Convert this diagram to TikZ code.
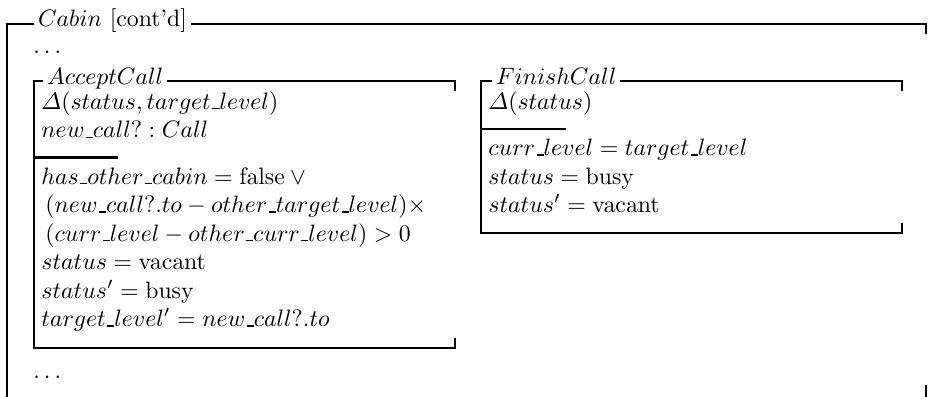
\documentclass[tikz,border=0pt]{standalone}
\usepackage{amsfonts,amsmath,amssymb}
\usepackage{tikz}
\usetikzlibrary{matrix}
\newcommand{\zus}{\kern.06em\vbox{\hrule width.3em height.6pt}}

\begin{document}
\begin{tikzpicture}[x=0.421pt,y=-0.421pt,
    frame/.style={line width=1.2pt},
    ztitle/.style={inner xsep=1.5pt, inner ysep=0pt, anchor=base west},
    zdots/.style={inner sep=0pt, anchor=base west},
    zbody/.style={matrix of math nodes,
      inner sep=0pt,
      row sep=1pt,
      matrix anchor=north west,
      nodes={inner sep=0pt, text height=8pt, text depth=3pt, anchor=base west},
      },
    ]
      \useasboundingbox (0,0) rectangle (928,396);

      \coordinate (cab-nw) at (7,24);
      \coordinate (cab-ne) at (926,24);
      \coordinate (cab-sw) at (7,400);
      \coordinate (cab-se) at (926,400);
      \node[ztitle] (cab-title) at (34,26) {$Cabin$ [cont'd]};
      \draw[frame] (cab-title.west |- cab-nw) -- (cab-nw) -- (cab-sw);
      \draw[frame] (cab-title.east |- cab-nw) -- (cab-ne) -- ++(0,10);
      \draw[frame] (cab-se) -- ++(0,-15);
      \node[zdots] (dots-top) at (33,53) {$\ldots$};
      \node[zdots] (dots-bot) at (33,378) {$\ldots$};

      \coordinate (acc-nw) at (34,81);
      \coordinate (acc-ne) at (455,81);
      \coordinate (acc-sw) at (34,348);
      \coordinate (acc-se) at (455,348);
      \node[ztitle] (acc-title) at (43,84) {$AcceptCall$};
      \draw[frame] (acc-title.west |- acc-nw) -- (acc-nw) -- (acc-sw) -- (acc-se) -- ++(0,-10);
      \draw[frame] (acc-title.east |- acc-nw) -- (acc-ne) -- ++(0,10);
      \matrix(acc)[zbody] at (41,90)
      {
        \varDelta(status, target\zus level) \\
        new\zus call? : Call \\[7.4pt]
        has\zus other\zus cabin = \mathrm{false} \lor {} \\
        \,(new\zus call?.to - other\zus target\zus level) \times \\
        \,(curr\zus level - other\zus curr\zus level) > 0 \\
        status = \mathrm{vacant} \\
        status' = \mathrm{busy} \\
        target\zus level' = new\zus call?.to \\
      };
      \coordinate (acc-div) at ([yshift=-8.2pt]acc-2-1.base);
      \draw[frame] (acc-nw |- acc-div) -- ++(84,0);

      \coordinate (fin-nw) at (481,81);
      \coordinate (fin-ne) at (902,81);
      \coordinate (fin-sw) at (481,233);
      \coordinate (fin-se) at (902,233);
      \node[ztitle] (fin-title) at (492,84) {$FinishCall$};
      \draw[frame] (fin-title.west |- fin-nw) -- (fin-nw) -- (fin-sw) -- (fin-se) -- ++(0,-10);
      \draw[frame] (fin-title.east |- fin-nw) -- (fin-ne) -- ++(0,10);
      \matrix(fin)[zbody] at (488,90)
      {
        \varDelta(status) \\[7.4pt]
        curr\zus level = target\zus level \\
        status = \mathrm{busy} \\
        status' = \mathrm{vacant} \\
      };
      \coordinate (fin-div) at ([yshift=-8.2pt]fin-1-1.base);
      \draw[frame] (fin-nw |- fin-div) -- ++(85,0);
\end{tikzpicture}
\end{document}
